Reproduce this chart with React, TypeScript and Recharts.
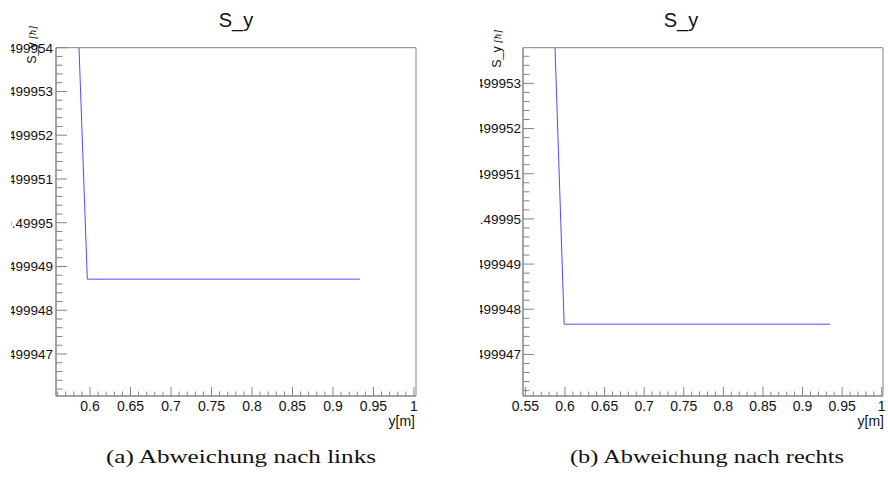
import { LineChart, Line, XAxis, YAxis, ReferenceArea } from 'recharts';

// S_y versus y for the two deviation cases (left / right)
const xLinks = [0.585, 0.5967, 0.9333];
const sLinks = [0.49995472, 0.49994871, 0.49994871];

const xRechts = [0.585, 0.599, 0.9346];
const sRechts = [0.49995506, 0.49994767, 0.49994767];

// labelled axis ticks
const xMajorLinks = [0.6, 0.65, 0.7, 0.75, 0.8, 0.85, 0.9, 0.95, 1];
const xMajorRechts = [0.55, 0.6, 0.65, 0.7, 0.75, 0.8, 0.85, 0.9, 0.95, 1];
const yMajorLinks = [0.499947, 0.499948, 0.499949, 0.49995, 0.499951, 0.499952, 0.499953, 0.499954];
const yMajorRechts = [0.499947, 0.499948, 0.499949, 0.49995, 0.499951, 0.499952, 0.499953];

const FONT = '"Liberation Sans", Arial, Helvetica, sans-serif';
const AXIS = '#858585';
const LINE = '#4d4dff';
const TEXT = '#111';

// major + minor ticks (5 subdivisions per major step) inside the domain
function withMinor(domain: number[], step: number) {
  const sub = step / 5;
  const out: number[] = [];
  const k0 = Math.ceil(domain[0] / sub - 1e-6);
  const k1 = Math.floor(domain[1] / sub + 1e-6);
  for (let k = k0; k <= k1; k++) out.push(k * sub);
  return out;
}

const findMajor = (majors: number[], v: number) => majors.find((m) => Math.abs(m - v) < 1e-10);

const yTick = (majors: number[], gap: number) => (props: any) => {
  const { x, y, payload } = props;
  const m = findMajor(majors, payload.value);
  const ax = x + gap;
  return (
    <g>
      <line x1={ax} x2={ax + (m !== undefined ? 11 : 6.5)} y1={y} y2={y} stroke={AXIS} />
      {m !== undefined && (
        <text x={x} y={y} dy="0.36em" textAnchor="end" fontSize={13.5} fontFamily={FONT} fill={TEXT}>
          {String(m)}
        </text>
      )}
    </g>
  );
};

const xTick = (majors: number[], gap: number) => (props: any) => {
  const { x, y, payload } = props;
  const m = findMajor(majors, payload.value);
  const ay = y - gap;
  return (
    <g>
      <line x1={x} x2={x} y1={ay} y2={ay - (m !== undefined ? 9 : 4.5)} stroke={AXIS} />
      {m !== undefined && (
        <text x={x} y={y} dy="0.72em" textAnchor="middle" fontSize={14} fontFamily={FONT} fill={TEXT}>
          {String(m)}
        </text>
      )}
    </g>
  );
};

type PanelProps = {
  left: number;
  width: number;
  yAxisWidth: number;
  marginRight: number;
  xs: number[];
  ys: number[];
  xDomain: number[];
  yDomain: number[];
  xMajor: number[];
  yMajor: number[];
  yGap: number;
};

function Panel(p: PanelProps) {
  const data = p.xs.map((x, i) => ({ x, s: p.ys[i] }));
  return (
    <div style={{ position: 'absolute', left: p.left, top: 0, width: p.width, height: 430, overflow: 'hidden' }}>
      <LineChart width={p.width} height={430} data={data} margin={{ top: 47.7, right: p.marginRight, bottom: 4, left: 0 }}>
        <XAxis
          type="number"
          dataKey="x"
          domain={p.xDomain}
          allowDataOverflow
          ticks={withMinor(p.xDomain, 0.05)}
          interval={0}
          tickLine={false}
          tickSize={0}
          tickMargin={5}
          height={30}
          axisLine={{ stroke: AXIS }}
          tick={xTick(p.xMajor, 5)}
        />
        <YAxis
          type="number"
          domain={p.yDomain}
          allowDataOverflow
          ticks={withMinor(p.yDomain, 0.000001)}
          interval={0}
          tickLine={false}
          tickSize={0}
          tickMargin={p.yGap}
          width={p.yAxisWidth}
          axisLine={{ stroke: AXIS }}
          tick={yTick(p.yMajor, p.yGap)}
        />
        <ReferenceArea
          x1={p.xDomain[0]}
          x2={p.xDomain[1]}
          y1={p.yDomain[0]}
          y2={p.yDomain[1]}
          fill="none"
          stroke={AXIS}
          ifOverflow="visible"
        />
        <Line type="linear" dataKey="s" stroke={LINE} strokeWidth={1} dot={false} isAnimationActive={false} />
      </LineChart>
    </div>
  );
}

export default function App() {
  return (
    <div style={{ position: 'absolute', left: 0, top: 0, width: 888, height: 481, background: '#fff', overflow: 'hidden' }}>
      <Panel
        left={11}
        width={419}
        yAxisWidth={45}
        marginRight={14}
        xs={xLinks}
        ys={sLinks}
        xDomain={[0.558, 1.0025]}
        yDomain={[0.49994604, 0.499954]}
        xMajor={xMajorLinks}
        yMajor={yMajorLinks}
        yGap={3}
      />
      <Panel
        left={480}
        width={408}
        yAxisWidth={43}
        marginRight={5}
        xs={xRechts}
        ys={sRechts}
        xDomain={[0.547, 1.0016]}
        yDomain={[0.49994608, 0.49995379]}
        xMajor={xMajorRechts}
        yMajor={yMajorRechts}
        yGap={2}
      />
      <svg width={888} height={481} style={{ position: 'absolute', left: 0, top: 0, pointerEvents: 'none' }}>
        <g fontFamily={FONT} fill={TEXT}>
          <text x={236} y={27} fontSize={20} textAnchor="middle">S_y</text>
          <text x={681} y={27} fontSize={20} textAnchor="middle">S_y</text>
          <text x={415} y={426} fontSize={14} textAnchor="end">y[m]</text>
          <text x={884} y={426} fontSize={14} textAnchor="end">y[m]</text>
          <text transform="translate(35.5, 26) rotate(-90)" fontSize={12.5} textAnchor="end">
            S_y <tspan fontSize={9} fontFamily="'DejaVu Serif', serif" fontStyle="italic">[ħ]</tspan>
          </text>
          <text transform="translate(501, 30) rotate(-90)" fontSize={12.5} textAnchor="end">
            S_y <tspan fontSize={9} fontFamily="'DejaVu Serif', serif" fontStyle="italic">[ħ]</tspan>
          </text>
        </g>
        <g fontFamily="'Liberation Serif', 'DejaVu Serif', serif" fill={TEXT} fontSize={18}>
          <text x={241} y={463} textAnchor="middle" textLength={270} lengthAdjust="spacingAndGlyphs">
            (a) Abweichung nach links
          </text>
          <text x={707} y={463} textAnchor="middle" textLength={274} lengthAdjust="spacingAndGlyphs">
            (b) Abweichung nach rechts
          </text>
        </g>
      </svg>
    </div>
  );
}
